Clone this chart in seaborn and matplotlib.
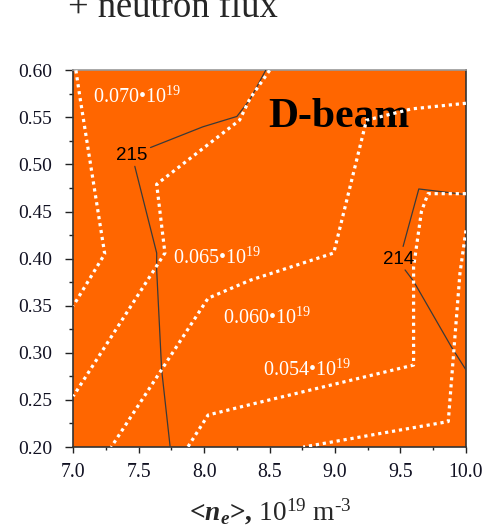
import numpy as np
import pandas as pd
import matplotlib
matplotlib.use("Agg")
import matplotlib.pyplot as plt
from matplotlib.ticker import AutoMinorLocator
import seaborn as sns

# ---- contour traces: neutron-flux levels (white dotted) ----
flux_070_x = [7.02, 7.05, 7.24, 7.00]
flux_070_y = [0.600, 0.572, 0.405, 0.350]

flux_065_x = [8.50, 8.35, 8.27, 7.637, 7.70, 7.00]
flux_065_y = [0.600, 0.570, 0.547, 0.479, 0.406, 0.254]

flux_060_x = [10.00, 9.585, 9.24, 8.99, 8.35, 8.03, 7.29]
flux_060_y = [0.565, 0.559, 0.547, 0.406, 0.377, 0.358, 0.200]

flux_054_x = [10.00, 9.71, 9.66, 9.60, 9.60, 8.35, 8.03, 7.875]
flux_054_y = [0.469, 0.469, 0.450, 0.391, 0.287, 0.245, 0.234, 0.200]

flux_050_x = [10.00, 9.954, 9.865, 8.757]
flux_050_y = [0.430, 0.384, 0.227, 0.200]

flux_levels = ["0.070", "0.065", "0.060", "0.054"]

# ---- contour traces: 215 and 214 (thin dark lines, split at their labels) ----
c215_top_x = [7.59, 7.99, 8.25, 8.35, 8.47]
c215_top_y = [0.518, 0.540, 0.551, 0.569, 0.600]
c215_bot_x = [7.47, 7.637, 7.637, 7.675, 7.74]
c215_bot_y = [0.498, 0.406, 0.388, 0.282, 0.200]

c214_top_x = [10.00, 9.64, 9.52]
c214_top_y = [0.468, 0.474, 0.413]
c214_bot_x = [9.535, 9.60, 9.89, 10.00]
c214_bot_y = [0.388, 0.376, 0.306, 0.282]

# label anchors (data coordinates, left/baseline)
flux_label_x = [7.148, 7.764, 8.144, 8.452]
flux_label_y = [0.5656, 0.3943, 0.3313, 0.2754]
line_labels = ["215", "214"]
line_label_x = [7.326, 9.368]
line_label_y = [0.5048, 0.394]

x_ticks = [7.0, 7.5, 8.0, 8.5, 9.0, 9.5, 10.0]
y_ticks = [0.20, 0.25, 0.30, 0.35, 0.40, 0.45, 0.50, 0.55, 0.60]


def to_frame(pairs, kind):
    frames = []
    for i, (xs, ys) in enumerate(pairs):
        frames.append(pd.DataFrame({"n_e": xs, "y": ys, "seg": f"{kind}{i}"}))
    return pd.concat(frames, ignore_index=True)


flux_df = to_frame([(flux_070_x, flux_070_y), (flux_065_x, flux_065_y),
                    (flux_060_x, flux_060_y), (flux_054_x, flux_054_y),
                    (flux_050_x, flux_050_y)], "f")
line_df = to_frame([(c215_top_x, c215_top_y), (c215_bot_x, c215_bot_y),
                    (c214_top_x, c214_top_y), (c214_bot_x, c214_bot_y)], "c")

sns.set_style("ticks")
plt.rcParams.update({
    "font.family": ["Liberation Serif", "DejaVu Serif"],
    "mathtext.fontset": "custom",
    "mathtext.rm": "Liberation Serif",
    "mathtext.it": "Liberation Serif:italic",
    "mathtext.bf": "Liberation Serif:bold",
    "mathtext.bfit": "Liberation Serif:italic:bold",
})

fig = plt.figure(figsize=(4.92, 5.27), dpi=100)
ax = fig.add_axes([0.149, 0.1518, 0.798, 0.7148])
ax.set_facecolor("#FF6600")

for seg, sub in line_df.groupby("seg"):
    sns.lineplot(data=sub, x="n_e", y="y", sort=False, estimator=None,
                 color="#3a3a3a", lw=0.9, ax=ax, legend=False, zorder=3)

for seg, sub in flux_df.groupby("seg"):
    sns.lineplot(data=sub, x="n_e", y="y", sort=False, estimator=None,
                 color="white", lw=2.3, linestyle=(0, (1, 1.2)),
                 dash_capstyle="butt", ax=ax, legend=False, zorder=4)

for lvl, lx, ly in zip(flux_levels, flux_label_x, flux_label_y):
    ax.text(lx, ly, lvl + "\u202210$^{19}$", color="white", fontsize=14.5,
            ha="left", va="baseline", zorder=5)

for lab, lx, ly in zip(line_labels, line_label_x, line_label_y):
    ax.text(lx, ly, lab, color="black", fontsize=13.5,
            family=["Liberation Sans", "DejaVu Sans"],
            ha="left", va="baseline", zorder=5)

ax.text(8.49, 0.540, "D-beam", fontsize=30, fontweight="bold",
        color="black", ha="left", va="baseline", zorder=2)

ax.set_xlim(7.0, 10.0)
ax.set_ylim(0.20, 0.60)
ax.set_xticks(x_ticks)
ax.set_xticklabels([f"{v:.1f}" for v in x_ticks])
ax.set_yticks(y_ticks)
ax.set_yticklabels([f"{v:.2f}" for v in y_ticks])
ax.xaxis.set_minor_locator(AutoMinorLocator(2))
ax.yaxis.set_minor_locator(AutoMinorLocator(2))

ax.tick_params(axis="x", which="major", direction="out", length=4.5,
               width=1.0, pad=7, labelsize=14.3, colors="#222222",
               labelcolor="#111122")
ax.tick_params(axis="x", which="minor", direction="out", length=2.4,
               width=1.0, colors="#222222")
ax.tick_params(axis="y", which="major", direction="out", length=6,
               width=1.0, pad=9, labelsize=14.0, colors="#222222",
               labelcolor="#111122")
ax.tick_params(axis="y", which="minor", direction="out", length=2.9,
               width=1.0, colors="#222222")

for side in ["left", "bottom", "right"]:
    ax.spines[side].set_color("#333333")
    ax.spines[side].set_linewidth(1.2)
ax.spines["top"].set_color("#999999")
ax.spines["top"].set_linewidth(1.2)

# bold outer text, regular units inside \mathrm
ax.set_ylabel("")
ax.set_xlabel("<$\\mathbfit{n}_{\\mathbfit{e}}$>, "
              "$\\mathrm{10}^{\\mathrm{19}}\\ \\mathrm{m}^{\\mathrm{\u2010}\\mathrm{3}}$",
              fontsize=19.7, fontweight="bold")
ax.xaxis.set_label_coords(0.5, -0.1957)
ax.xaxis.label.set_va("baseline")

fig.text(68 / 492, 1 - 17.3 / 527, "+ neutron flux", fontsize=26.4,
         ha="left", va="baseline")

fig.savefig("out.png", dpi=100)
